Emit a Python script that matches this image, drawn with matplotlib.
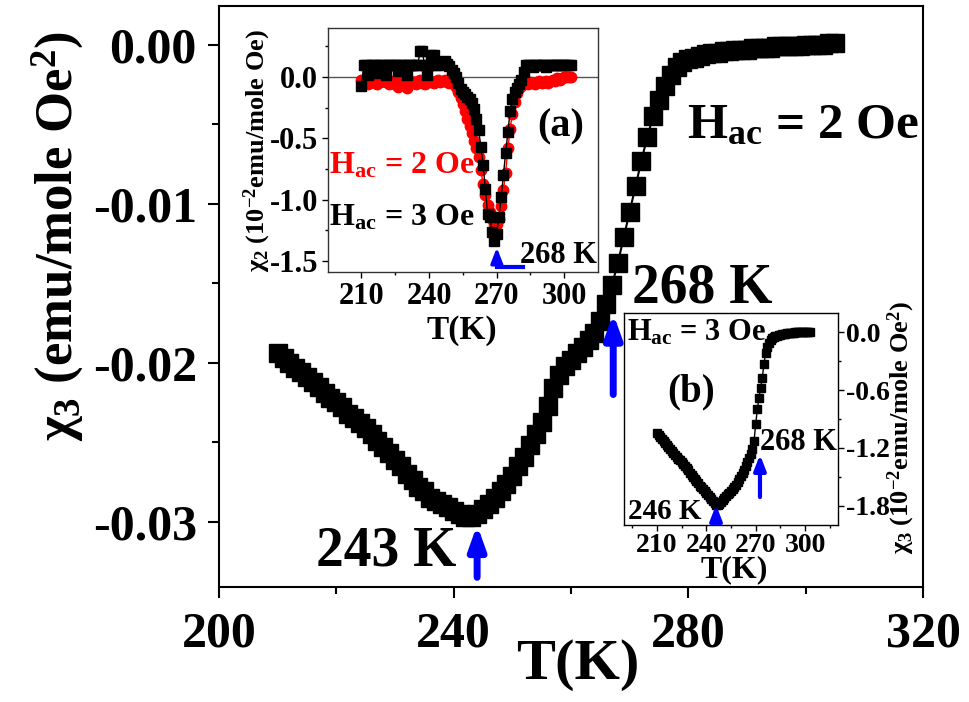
import numpy as np
import matplotlib
matplotlib.use('Agg')
import matplotlib.pyplot as plt

plt.rcParams['font.family'] = ['Liberation Serif', 'DejaVu Serif']
plt.rcParams['font.weight'] = 'bold'
plt.rcParams['axes.labelweight'] = 'bold'
plt.rcParams['mathtext.fontset'] = 'custom'
plt.rcParams['mathtext.rm'] = 'Liberation Serif:bold'
plt.rcParams['mathtext.it'] = 'Liberation Serif:bold'
plt.rcParams['mathtext.bf'] = 'Liberation Serif:bold'
plt.rcParams['axes.unicode_minus'] = False

# main panel: chi3 at Hac = 2 Oe (emu/mole Oe^2)
T_main = list(range(210, 306))
chi3_main = [
    -0.0194, -0.0197, -0.0200, -0.0203, -0.0206, -0.0209, -0.0212, -0.0215, -0.0219, -0.0222,
    -0.0225, -0.0228, -0.0232, -0.0235, -0.0238, -0.0241, -0.0245, -0.0249, -0.0253, -0.0257,
    -0.0261, -0.0265, -0.0270, -0.0274, -0.0278, -0.0281, -0.0285, -0.0287, -0.0289, -0.0291,
    -0.0293, -0.0295, -0.0297, -0.0297, -0.0295, -0.0292, -0.0289, -0.0285, -0.0281, -0.0276,
    -0.0271, -0.0265, -0.0259, -0.0252, -0.0245, -0.0237, -0.0227, -0.0216, -0.0208, -0.0202,
    -0.0198, -0.0194, -0.0190, -0.0186, -0.0181, -0.0174, -0.0163, -0.0151, -0.0137, -0.0121,
    -0.0105, -0.0089, -0.0073, -0.0058, -0.0045, -0.0035, -0.0026, -0.0019, -0.0014, -0.0011,
    -0.0009, -0.0008, -0.0007, -0.0006, -0.0005, -0.0005, -0.0004, -0.0004, -0.0003, -0.0003,
    -0.0003, -0.0002, -0.0002, -0.0002, -0.0002, -0.0001, -0.0001, -0.0001, -0.0001, -0.0001,
    0.0000, 0.0000, 0.0000, 0.0000, 0.0001, 0.0001,
]

# inset (a): chi2 (1e-2 emu/mole Oe)
T_a = list(range(210, 304))
chi2_3oe = [
    -0.07, 0.10, 0.10, 0.02, 0.10, 0.10, 0.10, 0.03, 0.10, 0.10,
    0.10, 0.02, 0.10, 0.10, 0.10, 0.10, 0.05, 0.10, 0.10, 0.10,
    0.02, 0.10, 0.10, 0.10, 0.10, 0.10, 0.21, 0.21, 0.10, 0.02,
    0.10, 0.18, 0.18, 0.10, 0.10, 0.12, 0.12, 0.13, 0.11, 0.09,
    0.06, 0.03, 0.00, -0.05, -0.10, -0.12, -0.14, -0.16, -0.18, -0.21,
    -0.26, -0.34, -0.43, -0.57, -0.72, -0.91, -1.12, -1.14, -1.26, -1.34,
    -1.28, -1.14, -0.98, -0.80, -0.62, -0.45, -0.28, -0.18, -0.12, -0.09,
    -0.06, -0.02, 0.04, 0.10, 0.10, 0.10, 0.08, 0.10, 0.10, 0.10,
    0.10, 0.10, 0.08, 0.10, 0.10, 0.10, 0.10, 0.10, 0.10, 0.10,
    0.10, 0.10, 0.10, 0.10,
]
chi2_2oe = [
    -0.02, -0.03, -0.05, -0.06, -0.04, -0.03, -0.05, -0.06, -0.04, -0.03,
    -0.02, -0.04, -0.06, -0.05, -0.03, -0.06, -0.08, -0.05, -0.03, -0.04,
    -0.09, -0.05, -0.03, -0.04, -0.06, -0.03, -0.02, -0.05, -0.06, -0.03,
    -0.02, -0.04, -0.05, -0.03, -0.02, -0.04, -0.03, -0.02, -0.04, -0.05,
    -0.04, -0.05, -0.08, -0.12, -0.17, -0.22, -0.28, -0.34, -0.40, -0.46,
    -0.52, -0.58, -0.65, -0.76, -0.87, -0.96, -1.04, -1.10, -1.16, -1.20,
    -1.20, -1.16, -1.05, -0.92, -0.78, -0.58, -0.42, -0.30, -0.20, -0.13,
    -0.09, -0.07, -0.06, -0.05, -0.06, -0.04, -0.05, -0.06, -0.04, -0.03,
    -0.05, -0.04, -0.03, -0.05, -0.03, -0.02, -0.03, -0.01, -0.02, -0.01,
    0.00, 0.00, 0.00, 0.00,
]

# inset (b): chi3 at Hac = 3 Oe (1e-2 emu/mole Oe^2)
T_b = list(range(210, 304))
chi3_3oe = [
    -1.05, -1.07, -1.09, -1.11, -1.13, -1.15, -1.17, -1.19, -1.21, -1.23,
    -1.25, -1.27, -1.29, -1.31, -1.33, -1.35, -1.37, -1.39, -1.41, -1.43,
    -1.46, -1.48, -1.50, -1.52, -1.54, -1.56, -1.59, -1.61, -1.63, -1.65,
    -1.67, -1.69, -1.71, -1.73, -1.75, -1.77, -1.79, -1.79, -1.78, -1.76,
    -1.74, -1.72, -1.70, -1.68, -1.67, -1.65, -1.63, -1.61, -1.58, -1.55,
    -1.52, -1.49, -1.46, -1.43, -1.39, -1.35, -1.30, -1.26, -1.21, -1.13,
    -0.95, -0.80, -0.68, -0.58, -0.47, -0.33, -0.22, -0.15, -0.11, -0.08,
    -0.06, -0.05, -0.04, -0.04, -0.03, -0.03, -0.02, -0.02, -0.02, -0.01,
    -0.01, -0.01, -0.01, -0.01, 0.00, 0.00, 0.00, 0.00, 0.00, 0.00,
    0.00, 0.00, 0.00, 0.00,
]

main_xticks = [200, 240, 280, 320]
main_yticks = [0.00, -0.01, -0.02, -0.03]
main_yticklabels = ['0.00', '-0.01', '-0.02', '-0.03']
a_xticks = [210, 240, 270, 300]
a_yticks = [0.0, -0.5, -1.0, -1.5]
a_yticklabels = ['0.0', '-0.5', '-1.0', '-1.5']
b_xticks = [210, 240, 270, 300]
b_yticks = [0.0, -0.6, -1.2, -1.8]
b_yticklabels = ['0.0', '-0.6', '-1.2', '-1.8']

fig = plt.figure(figsize=(9.69, 7.02), dpi=100)

# ---- main axes ----
ax = fig.add_axes([0.226, 0.164, 0.7265, 0.8276])
ax.plot(T_main, chi3_main, '-s', color='black', lw=1.5, ms=12.5)
ax.set_xlim(200, 320)
ax.set_ylim(-0.0341, 0.00245)
ax.set_xticks(main_xticks)
ax.set_xticks([220, 260, 300], minor=True)
ax.set_yticks(main_yticks)
ax.set_yticklabels(main_yticklabels)
ax.set_yticks([-0.005, -0.015, -0.025], minor=True)
ax.tick_params(which='major', direction='out', length=8, width=1.5, labelsize=36, pad=8)
ax.tick_params(which='minor', direction='out', length=5, width=1.5)
ax.tick_params(axis='x', pad=10)
for s in ax.spines.values():
    s.set_linewidth(1.5)
ax.set_xlabel('T(K)', fontsize=42, ha='center', va='center')
ax.xaxis.set_label_coords(0.51, -0.134)
ax.set_ylabel('χ$_3$ (emu/mole Oe$^2$)', fontsize=38, ha='center', va='center')
ax.yaxis.set_label_coords(-0.229, 0.604)

ax.text(279.8, -0.00585, 'H$_{ac}$ = 2 Oe', fontsize=37, ha='left', va='baseline')
ax.text(282.3, -0.0153, '268 K', fontsize=40, ha='center', va='center')
ax.text(228.5, -0.0319, '243 K', fontsize=40, ha='center', va='center')
arrow_kw = dict(arrowstyle='-|>,head_length=1.4,head_width=0.5', mutation_scale=10,
                lw=5, color='blue', shrinkA=0, shrinkB=0, capstyle='round')
ax.annotate('', xy=(244, -0.0302), xytext=(244, -0.0335), arrowprops=arrow_kw)
ax.annotate('', xy=(267.2, -0.0169), xytext=(267.2, -0.0220), arrowprops=arrow_kw)

# ---- inset (a) ----
axa = fig.add_axes([0.3382, 0.6125, 0.2789, 0.3476])
axa.axhline(0, color='#555555', lw=1)
axa.plot(T_a, chi2_2oe, '-o', color='red', lw=1, ms=7.5)
axa.plot(T_a, chi2_3oe, '-s', color='black', lw=1, ms=7.5)
axa.set_xlim(195, 315)
axa.set_ylim(-1.59, 0.40)
axa.set_xticks(a_xticks)
axa.set_xticks([225, 255, 285], minor=True)
axa.set_yticks(a_yticks)
axa.set_yticklabels(a_yticklabels)
axa.set_yticks([0.25, -0.25, -0.75, -1.25], minor=True)
axa.tick_params(which='major', direction='out', length=4, width=1, labelsize=22, pad=3)
axa.tick_params(which='minor', direction='out', length=2.5, width=1)
for s in axa.spines.values():
    s.set_linewidth(1)
    s.set_color('#333333')
axa.set_xlabel('T(K)', fontsize=24, ha='center', va='center')
axa.xaxis.set_label_coords(0.497, -0.238)
axa.set_ylabel('χ$_2$ (10$^{-2}$emu/mole Oe)', fontsize=19, ha='center', va='center')
axa.yaxis.set_label_coords(-0.262, 0.5)
axa.text(298.6, -0.408, '(a)', fontsize=29, ha='center', va='center')
axa.text(195.6, -0.783, 'H$_{ac}$ = 2 Oe', fontsize=23, color='red', ha='left', va='baseline')
axa.text(195.6, -1.207, 'H$_{ac}$ = 3 Oe', fontsize=23, color='black', ha='left', va='baseline')
axa.text(280.4, -1.517, '268 K', fontsize=22, ha='left', va='baseline')
axa.plot([281.7, 270.1], [-1.55, -1.55], color='blue', lw=3)
axa.annotate('', xy=(270.1, -1.39), xytext=(270.1, -1.55),
             arrowprops=dict(arrowstyle='-|>,head_length=0.9,head_width=0.35', mutation_scale=10,
                             lw=2.5, color='blue', shrinkA=0, shrinkB=0))

# ---- inset (b) ----
axb = fig.add_axes([0.644, 0.2521, 0.2208, 0.302])
axb.plot(T_b, chi3_3oe, '-s', color='black', lw=1, ms=5.5)
axb.set_xlim(190, 320)
axb.set_ylim(-2.0, 0.2)
axb.set_xticks(b_xticks)
axb.set_xticks([195, 225, 255, 285, 315], minor=True)
axb.set_yticks(b_yticks)
axb.set_yticklabels(b_yticklabels)
axb.set_yticks([-0.3, -0.9, -1.5], minor=True)
axb.yaxis.tick_right()
axb.tick_params(which='major', direction='out', length=4, width=1, labelsize=20, pad=2)
axb.tick_params(which='minor', direction='out', length=2.5, width=1)
for s in axb.spines.values():
    s.set_linewidth(1)
axb.set_xlabel('T(K)', fontsize=23, ha='center', va='center')
axb.xaxis.set_label_coords(0.514, -0.212)
axb.set_ylabel('χ$_3$ (10$^{-2}$emu/mole Oe$^2$)', fontsize=19, ha='center', va='center',
               rotation=90)
axb.yaxis.set_label_position('right')
axb.yaxis.set_label_coords(1.225, 0.458)
axb.text(191.8, -0.08, 'H$_{ac}$ = 3 Oe', fontsize=22, ha='left', va='baseline')
axb.text(230.7, -0.62, '(b)', fontsize=28, ha='center', va='center')
axb.text(192.4, -1.86, '246 K', fontsize=21, ha='left', va='center')
axb.text(272.6, -1.14, '268 K', fontsize=22, ha='left', va='center')
arrow_b = dict(arrowstyle='-|>,head_length=0.9,head_width=0.35', mutation_scale=10,
               lw=3, color='blue', shrinkA=0, shrinkB=0)
axb.annotate('', xy=(245.9, -1.79), xytext=(245.9, -1.97), arrowprops=arrow_b)
axb.annotate('', xy=(272.6, -1.27), xytext=(272.6, -1.71), arrowprops=arrow_b)

fig.savefig('out.png', dpi=100)
